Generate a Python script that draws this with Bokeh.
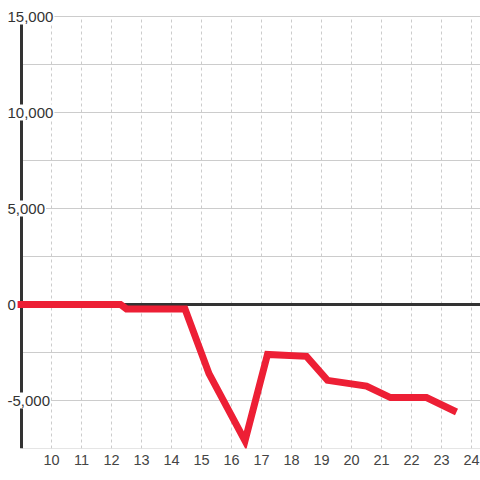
from bokeh.plotting import figure
from bokeh.models import Range1d, FixedTicker
from bokeh.core.properties import value
from bokeh.embed import file_html
from bokeh.resources import INLINE

# data
xs = [8.87, 12.3, 12.5, 14.45, 15.25, 16.45, 17.2, 18.5, 19.2, 20.5, 21.3, 22.5, 23.5]
ys = [0, 0, -230, -230, -3600, -7100, -2600, -2700, -3950, -4250, -4850, -4850, -5600]
x_ticks = list(range(10, 25))
y_min, y_max = -7500, 15000
y_grid_step = 2500
y_label_vals = [15000, 10000, 5000, 0, -5000]
y_label_txt = ["15,000", "10,000", "5,000", "0", "-5,000"]
axis_x = 9

x_start, x_end = 8.3, 24.3
W, H = 480, 480
ppu = W / (x_end - x_start)
# 16 px of headroom above the 15,000 line (432 px for 22,500 units)
top_pad = (y_max - y_min) / 432 * 16

p = figure(width=W, height=H, output_backend="svg", toolbar_location=None,
           x_range=Range1d(x_start, x_end), y_range=Range1d(y_min, y_max + top_pad),
           y_axis_location=None, min_border_left=0, min_border_right=0,
           min_border_top=0, min_border_bottom=32)
p.outline_line_color = None
p.background_fill_color = "white"
p.border_fill_color = "white"

# x axis
p.xaxis.ticker = FixedTicker(ticks=x_ticks)
p.xaxis.axis_line_color = None
p.xaxis.major_tick_line_color = None
p.xaxis.minor_tick_line_color = None
p.xaxis.major_tick_out = 0
p.xaxis.major_tick_in = 0
p.xaxis.major_label_standoff = 6
p.xaxis.major_label_text_font = "Liberation Sans"
p.xaxis.major_label_text_font_size = "14.5px"
p.xaxis.major_label_text_color = "#444444"

# grids (drawn as segments so they start at the axis line)
p.xgrid.visible = False
p.ygrid.visible = False
hgrid = list(range(y_min, y_max + 1, y_grid_step))
p.segment(x0=[axis_x] * len(hgrid), y0=hgrid, x1=[x_end] * len(hgrid), y1=hgrid,
          line_color="#cccccc", line_width=1)
p.segment(x0=x_ticks, y0=[y_min] * len(x_ticks), x1=x_ticks, y1=[y_max] * len(x_ticks),
          line_color="#cccccc", line_width=1, line_dash="3 3")

# zero line and axis line
p.segment(x0=[axis_x], y0=[0], x1=[x_end], y1=[0], line_color="#333333", line_width=3)
p.segment(x0=[axis_x], y0=[y_min], x1=[axis_x], y1=[y_max], line_color="#333333", line_width=3)

# series
p.line(xs, ys, line_color="#ED1F35", line_width=7, line_join="miter")

# y labels with white boxes behind them
off = -14
def text_w(s):
    w = 0.0
    for ch in s:
        w += 4.17 if ch == "," else (5.0 if ch == "-" else 8.34)
    return w
widths = [text_w(t) + 2 for t in y_label_txt]
centers = [axis_x + (off - 1 + w / 2) / ppu for w in widths]
p.rect(x=centers, y=y_label_vals, width=widths, height=[16] * len(widths),
       width_units="screen", height_units="screen",
       fill_color="white", line_color=None)
p.text(x=[axis_x] * len(y_label_vals), y=y_label_vals, text=y_label_txt, x_offset=off,
       text_align="left", text_baseline="middle",
       text_font=value("Liberation Sans"), text_font_size=value("15px"),
       text_color="#333333")

open("out.html", "w").write(file_html(p, INLINE))
